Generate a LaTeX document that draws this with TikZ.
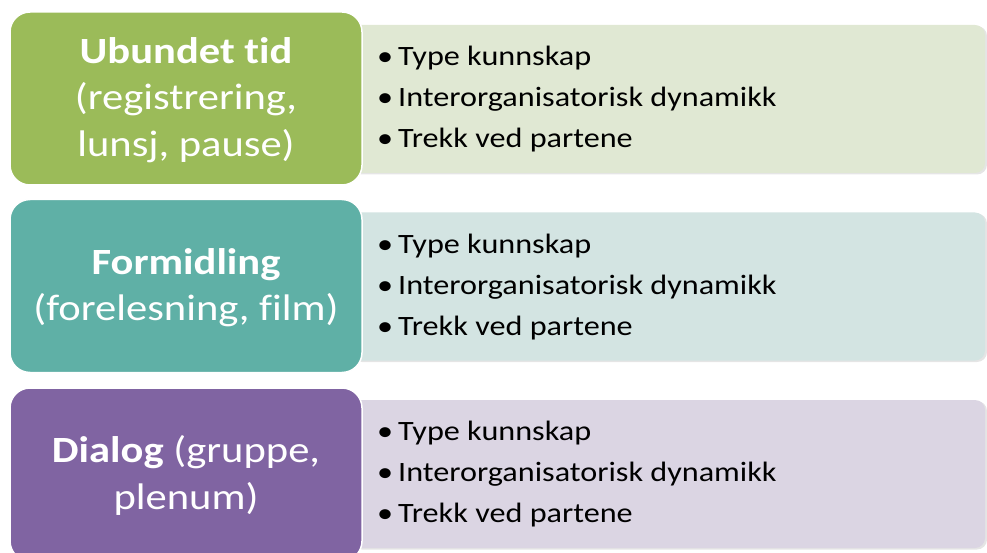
\documentclass[tikz,border=0pt]{standalone}
\usepackage{fontspec}
\setmainfont{Carlito}[FakeStretch=1.15, Ligatures=NoCommon]
\begin{document}
\begin{tikzpicture}[x=1pt,y=-1pt]
\definecolor{grA}{RGB}{155,187,89}
\definecolor{grB}{RGB}{224,232,211}
\definecolor{tlA}{RGB}{95,176,166}
\definecolor{tlB}{RGB}{211,228,226}
\definecolor{puA}{RGB}{128,100,162}
\definecolor{puB}{RGB}{219,213,227}
\tikzset{
  headbox/.style={draw=white, line width=1.5pt, rounded corners=20pt,
    minimum width=352pt, minimum height=173pt},
  headtext/.style={text=white, align=center, inner sep=0pt,
    font=\fontsize{37}{46.5}\selectfont},
  listbox/.style={rounded corners=10pt, minimum width=635pt,
    minimum height=148pt, inner sep=0pt},
  shade/.style={fill=black!10, rounded corners=10pt},
  listtext/.style={anchor=west, align=left, inner sep=0pt,
    font=\fontsize{28}{41}\selectfont}
}
\newcommand{\itm}[1]{\makebox[21pt][l]{\textbullet}#1}
\useasboundingbox (0,0) rectangle (987,553);
\begin{scope}
\clip (0,0) rectangle (987,553);
% list panels behind the heading boxes
\foreach \cy in {99, 286.5, 474}{
  \fill[shade] (352,\cy-73) rectangle (987,\cy+75.5);
}
\node[listbox, fill=grB] (l1) at (667.5,99) {};
\node[listbox, fill=tlB] (l2) at (667.5,286.5) {};
\node[listbox, fill=puB] (l3) at (667.5,474) {};
\node[listtext] (t1) at (377,99.5) {\itm{Type kunnskap}\\\itm{Interorganisatorisk dynamikk}\\\itm{Trekk ved partene}};
\node[listtext] (t2) at (377,287.5) {\itm{Type kunnskap}\\\itm{Interorganisatorisk dynamikk}\\\itm{Trekk ved partene}};
\node[listtext] (t3) at (377,474.5) {\itm{Type kunnskap}\\\itm{Interorganisatorisk dynamikk}\\\itm{Trekk ved partene}};
% heading boxes
\node[headbox, fill=grA] (h1) at (186,98.5) {};
\node[headbox, fill=tlA] (h2) at (186,286) {};
\node[headbox, fill=puA] (h3) at (186,474.5) {};
\node[headtext] (c1) at (186,100) {\textbf{Ubundet tid}\\(registrering,\\lunsj, pause)};
\node[headtext] (c2) at (186,287.5) {\textbf{Formidling}\\(forelesning, film)};
\node[headtext] (c3) at (186,475.5) {\textbf{Dialog} (gruppe,\\plenum)};
\end{scope}
\end{tikzpicture}
\end{document}
